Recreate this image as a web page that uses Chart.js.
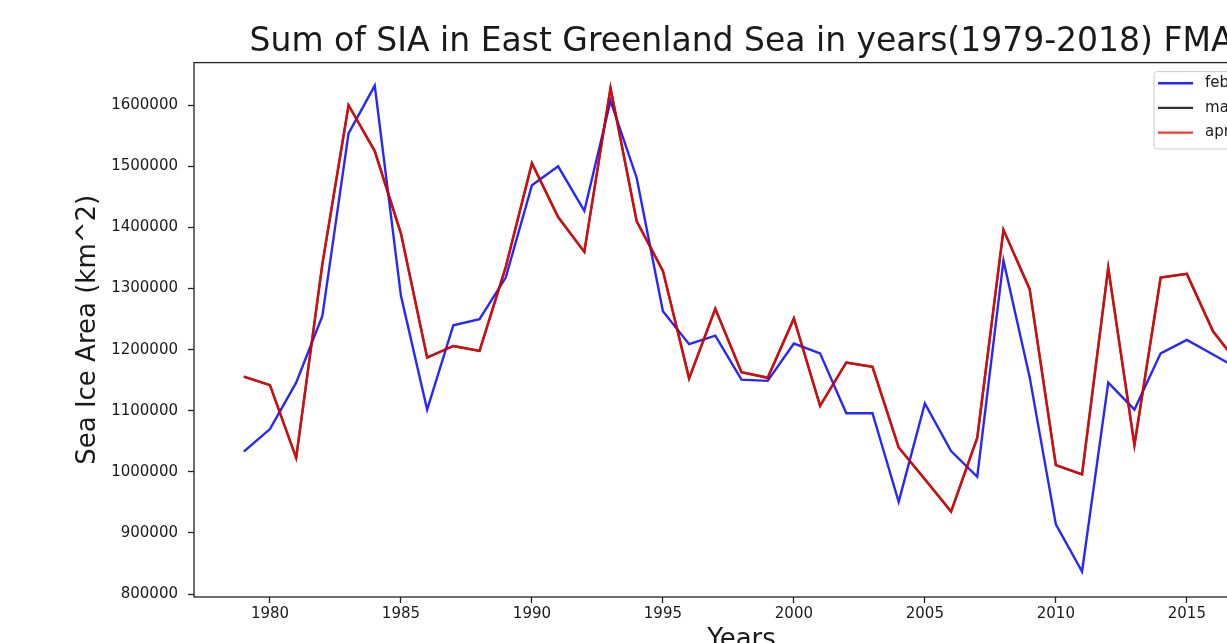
<!DOCTYPE html>
<html>
<head>
<meta charset="utf-8">
<script src="https://cdn.jsdelivr.net/npm/chart.js@4.4.1/dist/chart.umd.min.js"></script>
<style>
html,body{margin:0;padding:0;background:#fff;overflow:hidden;width:1227px;height:643px}
#wrap{position:absolute;left:0;top:0;width:1320px;height:680px}
</style>
</head>
<body>
<div id="wrap"><canvas id="c" width="1320" height="680"></canvas></div>
<script>
const years = [1979,1980,1981,1982,1983,1984,1985,1986,1987,1988,1989,1990,1991,1992,1993,1994,1995,1996,1997,1998,1999,2000,2001,2002,2003,2004,2005,2006,2007,2008,2009,2010,2011,2012,2013,2014,2015,2016,2017];
const febValues = [1033000,1070000,1146000,1255000,1554000,1632000,1288000,1102000,1240000,1250000,1318000,1469000,1500000,1427000,1607000,1481000,1263000,1209000,1223000,1151000,1149000,1210000,1194000,1096000,1096000,951000,1112000,1034000,992000,1346000,1155000,914000,837000,1146000,1102000,1194000,1216000,1192000,1168000];
const marValues = [1156000,1142000,1023000,1340000,1600000,1525000,1390000,1187000,1206000,1198000,1335000,1505000,1417000,1360000,1628000,1410000,1329000,1153000,1267000,1163000,1154000,1251000,1108000,1179000,1172000,1040000,988000,935000,1056000,1396000,1299000,1011000,996000,1334000,1044000,1318000,1324000,1230000,1175000];
const aprValues = [1156000,1142000,1023000,1340000,1600000,1525000,1390000,1187000,1206000,1198000,1335000,1505000,1417000,1360000,1628000,1410000,1329000,1153000,1267000,1163000,1154000,1251000,1108000,1179000,1172000,1040000,988000,935000,1056000,1396000,1299000,1011000,996000,1334000,1044000,1318000,1324000,1230000,1175000];
const seriesLabels = ['february','march','april'];
const xTickValues = [1980,1985,1990,1995,2000,2005,2010,2015];
const yTickValues = [800000,900000,1000000,1100000,1200000,1300000,1400000,1500000,1600000];
const titleText = 'Sum of SIA in East Greenland Sea in years(1979-2018) FMA';
const xTitle = 'Years';
const yTitle = 'Sea Ice Area (km^2)';

const FONT = 'DejaVu Sans';
const TXT = '#1a1a1a';

const toPoints = vals => years.map((yr, i) => ({x: yr, y: vals[i]}));

const framePlugin = {
  id: 'frame',
  afterDatasetsDraw(chart) {
    const {ctx, chartArea: a} = chart;
    ctx.save();
    ctx.strokeStyle = '#222';
    ctx.lineWidth = 1.3;
    ctx.strokeRect(a.left, a.top, a.right - a.left, a.bottom - a.top);
    ctx.restore();
  }
};

const boxLegend = {
  id: 'boxLegend',
  afterDraw(chart) {
    const {ctx, chartArea: a} = chart;
    const ds = chart.data.datasets.slice().sort((p, q) => p.legendIndex - q.legendIndex);
    ctx.save();
    ctx.font = '15px "' + FONT + '"';
    const textW = Math.max(...ds.map(d => ctx.measureText(d.label).width));
    const w = 51 + textW + 9;
    const rowH = 24.7;
    const h = 11.6 + rowH * (ds.length - 1) + 16.4;
    const x = a.right - 11 - w;
    const y = a.top + 9;
    const r = 3;
    ctx.beginPath();
    ctx.moveTo(x + r, y);
    ctx.lineTo(x + w - r, y); ctx.arcTo(x + w, y, x + w, y + r, r);
    ctx.lineTo(x + w, y + h - r); ctx.arcTo(x + w, y + h, x + w - r, y + h, r);
    ctx.lineTo(x + r, y + h); ctx.arcTo(x, y + h, x, y + h - r, r);
    ctx.lineTo(x, y + r); ctx.arcTo(x, y, x + r, y, r);
    ctx.closePath();
    ctx.fillStyle = 'rgba(255,255,255,0.8)';
    ctx.fill();
    ctx.strokeStyle = '#cccccc';
    ctx.lineWidth = 1;
    ctx.stroke();
    ds.forEach((d, i) => {
      const cy = y + 11.6 + i * rowH;
      ctx.beginPath();
      ctx.moveTo(x + 4, cy);
      ctx.lineTo(x + 39, cy);
      ctx.strokeStyle = d.borderColor;
      ctx.lineWidth = 2.4;
      ctx.stroke();
      ctx.fillStyle = TXT;
      ctx.textBaseline = 'middle';
      ctx.textAlign = 'left';
      ctx.fillText(d.label, x + 51, cy);
    });
    ctx.restore();
  }
};

new Chart(document.getElementById('c'), {
  type: 'line',
  data: {
    datasets: [
      {label: seriesLabels[0], data: toPoints(febValues), borderColor: 'rgba(0,0,255,0.85)', borderWidth: 2.4, pointRadius: 0, tension: 0, fill: false, order: 2, legendIndex: 0},
      {label: seriesLabels[1], data: toPoints(marValues), borderColor: 'rgba(0,0,0,0.8)', borderWidth: 2.4, pointRadius: 0, tension: 0, fill: false, order: 1, legendIndex: 1},
      {label: seriesLabels[2], data: toPoints(aprValues), borderColor: 'rgba(255,0,0,0.8)', borderWidth: 2.4, pointRadius: 0, tension: 0, fill: false, order: 0, legendIndex: 2}
    ]
  },
  options: {
    responsive: false,
    animation: false,
    devicePixelRatio: 1,
    layout: {padding: {left: 0, right: 31, top: 0, bottom: 0}},
    plugins: {
      legend: {display: false},
      tooltip: {enabled: false},
      title: {
        display: true, text: titleText, fullSize: false,
        font: {family: FONT, size: 33, weight: 'normal'}, color: TXT,
        padding: {top: 23, bottom: 0}
      }
    },
    scales: {
      x: {
        type: 'linear', min: 1977.1, max: 2018.9,
        afterBuildTicks: s => { s.ticks = xTickValues.map(v => ({value: v})); },
        afterFit: s => { s.height = 83; },
        ticks: {font: {family: FONT, size: 15}, color: TXT, padding: 2, maxRotation: 0, autoSkip: false, callback: v => String(v)},
        grid: {drawOnChartArea: false, drawTicks: true, tickLength: 6, tickColor: '#222', tickWidth: 1.3},
        border: {display: false},
        title: {display: true, text: xTitle, font: {family: FONT, size: 26}, color: TXT, padding: {top: 0, bottom: 24}}
      },
      y: {
        type: 'linear', min: 795250, max: 1669750,
        afterBuildTicks: s => { s.ticks = yTickValues.map(v => ({value: v})); },
        afterFit: s => { s.width = 194; },
        ticks: {font: {family: FONT, size: 15}, color: TXT, padding: 10, autoSkip: false, callback: v => String(v)},
        grid: {drawOnChartArea: false, drawTicks: true, tickLength: 6, tickColor: '#222', tickWidth: 1.3},
        border: {display: false},
        title: {display: true, text: yTitle, font: {family: FONT, size: 26}, color: TXT, padding: {top: 73, bottom: 0}}
      }
    }
  },
  plugins: [framePlugin, boxLegend]
});
</script>
</body>
</html>
